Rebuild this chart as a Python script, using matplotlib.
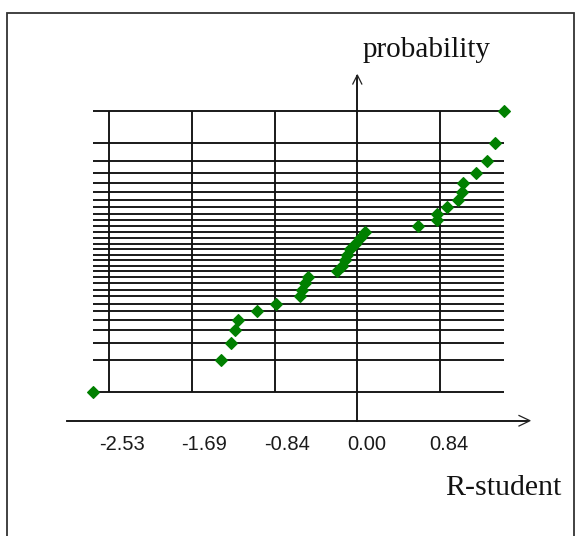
import numpy as np
import matplotlib
matplotlib.use("Agg")
import matplotlib.pyplot as plt
import matplotlib.transforms as mtransforms
from matplotlib.patches import Rectangle
from statistics import NormalDist

# ---- data ----
r_student = [-2.70, -1.39, -1.29, -1.25, -1.22, -1.02, -0.83, -0.58, -0.56, -0.53,
             -0.50, -0.21, -0.16, -0.13, -0.11, -0.07, -0.02, 0.03, 0.08, 0.62,
             0.81, 0.81, 0.92, 1.03, 1.07, 1.08, 1.21, 1.32, 1.40, 1.50]
probability = [0.0167, 0.0500, 0.0833, 0.1167, 0.1500, 0.1833, 0.2167, 0.2500, 0.2833, 0.3167,
               0.3500, 0.3833, 0.4167, 0.4500, 0.4833, 0.5167, 0.5500, 0.5833, 0.6167, 0.6500,
               0.6833, 0.7167, 0.7500, 0.7833, 0.8167, 0.8500, 0.8833, 0.9167, 0.9500, 0.9833]
x_ticks = [-2.53, -1.69, -0.84, 0.00, 0.84]
x_title = "R-student"
y_title = "probability"

# ---- normal probability scale ----
_nd = NormalDist()
_ppf = np.vectorize(_nd.inv_cdf, otypes=[float])
_cdf = np.vectorize(_nd.cdf, otypes=[float])

def fwd(p):
    p = np.clip(np.asarray(p, dtype=float), 1e-15, 1 - 1e-15)
    return _ppf(p)

def inv(z):
    return _cdf(np.asarray(z, dtype=float))

W, H = 587, 536
fig = plt.figure(figsize=(W / 100, H / 100), dpi=100)
ax = fig.add_axes([0, 0, 1, 1])
ax.set_axis_off()

# pixel layout
x0_px, x_unit = 357.3, 98.0        # x=0 position and px per unit
yc_px, y_unit = 251.85, 66.0       # p=0.5 position and px per z unit
ax.set_xlim((0 - x0_px) / x_unit, (W - x0_px) / x_unit)
ax.set_yscale('function', functions=(fwd, inv))
ax.set_ylim(float(inv(-(H - yc_px) / y_unit)), float(inv(yc_px / y_unit)))

def yfrac(px):
    return 1 - px / H

def xfrac(px):
    return px / W

line_kw = dict(color='#111111', lw=1.35)

# horizontal grid lines at each plotting position
xmin, xmax = min(r_student), max(r_student)
ax.hlines(probability, xmin, xmax, **line_kw, zorder=1)

# vertical grid lines at ticks (except zero which is the axis)
for t in x_ticks:
    if t != 0:
        ax.vlines(t, probability[0], probability[-1], **line_kw, zorder=1)

# x axis with arrow
bt = mtransforms.blended_transform_factory(ax.transAxes, ax.transAxes)
y_ax = yfrac(420.7)
ax.plot([xfrac(66.7), xfrac(528)], [y_ax, y_ax], transform=bt, **line_kw, zorder=2)
ax.plot([xfrac(519), xfrac(530), xfrac(519)],
        [yfrac(415.5), y_ax, yfrac(426)], transform=bt, color='#222222', lw=0.9, zorder=2)

# y axis (at x = 0) with arrow
bx = mtransforms.blended_transform_factory(ax.transData, ax.transAxes)
ax.plot([0, 0], [y_ax, yfrac(76)], transform=bx, **line_kw, zorder=2)
ax.plot([-4.5 / x_unit, 0, 4.5 / x_unit], [yfrac(84), yfrac(75), yfrac(84)],
        transform=bx, color='#222222', lw=0.9, zorder=2)

# points
ax.plot(r_student, probability, linestyle='none', marker='D', markersize=6.4,
        color='#008000', mec='#008000', mew=0.8, zorder=3)

# tick labels
for t in x_ticks:
    off = mtransforms.offset_copy(bx, fig=fig, x=-10.5, y=0, units='dots')
    ax.text(t, yfrac(444.5), f"{t:.2f}", transform=off, ha='left', va='center',
            fontsize=14.5, family='Liberation Sans', color='#1a1a1a')

# axis titles
ax.text(xfrac(445), yfrac(495), x_title, transform=bt, ha='left', va='baseline',
        fontsize=21.5, family='Liberation Serif', color='#111111')
ax.text(xfrac(363), yfrac(57), y_title, transform=bt, ha='left', va='baseline',
        fontsize=21, family='Liberation Serif', color='#111111')

# outer frame
ax.add_patch(Rectangle((xfrac(7), yfrac(545)), xfrac(574) - xfrac(7), yfrac(13) - yfrac(545),
                       transform=bt, fill=False, edgecolor='#333333', lw=1.3, clip_on=False))

fig.savefig("out.png", dpi=100)
